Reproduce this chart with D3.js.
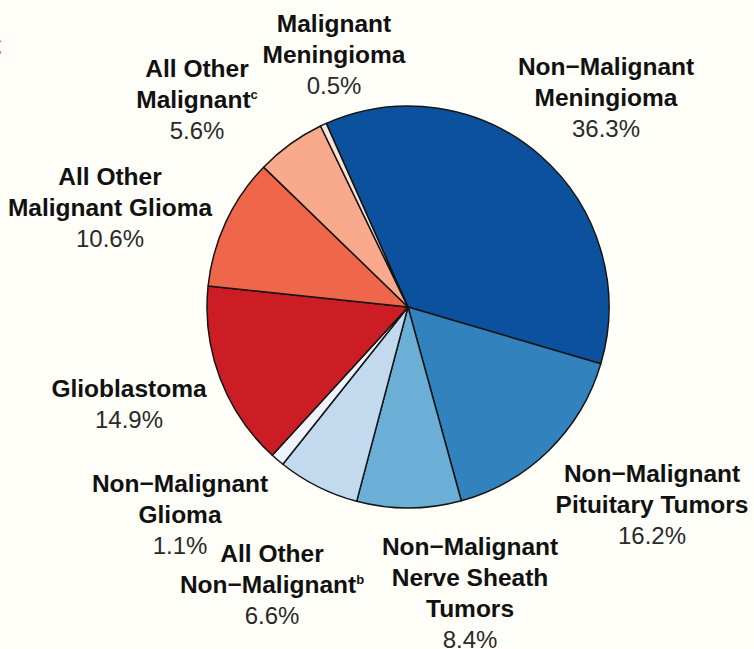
<!DOCTYPE html>
<html>
<head>
<meta charset="utf-8">
<script src="https://cdn.jsdelivr.net/npm/d3@7"></script>
<style>
  html, body { margin: 0; padding: 0; background: #fffef8; }
  svg { display: block; }
  text { font-family: "Liberation Sans", Arial, sans-serif; }
</style>
</head>
<body>
<svg width="754" height="649"></svg>
<script>
// slices, clockwise from the top-left edge of the big blue slice
const categories = ["Non-Malignant Meningioma", "Non-Malignant Pituitary Tumors",
  "Non-Malignant Nerve Sheath Tumors", "All Other Non-Malignant", "Non-Malignant Glioma",
  "Glioblastoma", "All Other Malignant Glioma", "All Other Malignant", "Malignant Meningioma"];
const percents = [36.3, 16.2, 8.4, 6.6, 1.1, 14.9, 10.6, 5.6, 0.5];
const labelLines = [
  ["Non\u2212Malignant", "Meningioma"],
  ["Non\u2212Malignant", "Pituitary Tumors"],
  ["Non\u2212Malignant", "Nerve Sheath", "Tumors"],
  ["All Other", "Non\u2212Malignant"],
  ["Non\u2212Malignant", "Glioma"],
  ["Glioblastoma"],
  ["All Other", "Malignant Glioma"],
  ["All Other", "Malignant"],
  ["Malignant", "Meningioma"]
];
const superscripts = ["", "", "", "b", "", "", "", "c", ""];
const colors = ["#0b519e", "#3182bd", "#6baed6", "#c3d9ee", "#eef3fd",
  "#cb1d23", "#f0664a", "#f9a98c", "#fde3d6"];

// label anchors (centre x, first baseline)
const labelPos = [[606, 75], [652, 482], [470, 555], [272, 562], [180, 492],
  [129, 397], [110, 185], [197, 77], [334, 32]];
const lineH = 31;

const svg = d3.select("svg");
const cx = 408, cy = 307, r = 201;
const start = -24 * Math.PI / 180;

// red panel letter, cut off at the left edge
svg.append("text")
  .attr("x", 2).attr("y", 58)
  .attr("text-anchor", "end")
  .attr("font-size", 32).attr("font-weight", "bold")
  .attr("fill", "#e42b24")
  .text("C");

const pie = d3.pie().sort(null).value(function(d) { return d; })
  .startAngle(start).endAngle(start + 2 * Math.PI);
const arc = d3.arc().innerRadius(0).outerRadius(r);

const g = svg.append("g").attr("transform", "translate(" + cx + "," + cy + ")");
g.selectAll("path.slice")
  .data(pie(percents))
  .enter()
  .append("path")
  .classed("slice", true)
  .attr("d", arc)
  .attr("fill", function(d, i) { return colors[i]; })
  .attr("stroke", "#151515")
  .attr("stroke-width", 1.5)
  .attr("stroke-linejoin", "round");

const labels = svg.selectAll("g.label")
  .data(categories)
  .enter()
  .append("g")
  .classed("label", true)
  .attr("transform", function(d, i) { return "translate(" + labelPos[i][0] + "," + labelPos[i][1] + ")"; });

labels.each(function(d, i) {
  const lab = d3.select(this);
  const lines = labelLines[i];
  lines.forEach(function(line, j) {
    const t = lab.append("text")
      .attr("x", 0).attr("y", j * lineH)
      .attr("text-anchor", "middle")
      .attr("font-size", 24.5).attr("font-weight", "bold")
      .attr("fill", "#111");
    t.append("tspan").text(line);
    if (j === lines.length - 1 && superscripts[i]) {
      t.append("tspan")
        .attr("font-size", 13)
        .attr("dy", -9)
        .text(superscripts[i]);
    }
  });
  lab.append("text")
    .attr("x", 0).attr("y", lines.length * lineH)
    .attr("text-anchor", "middle")
    .attr("font-size", 24)
    .attr("fill", "#2a2a2a")
    .text(d3.format(".1f")(percents[i]) + "%");
});
</script>
</body>
</html>
